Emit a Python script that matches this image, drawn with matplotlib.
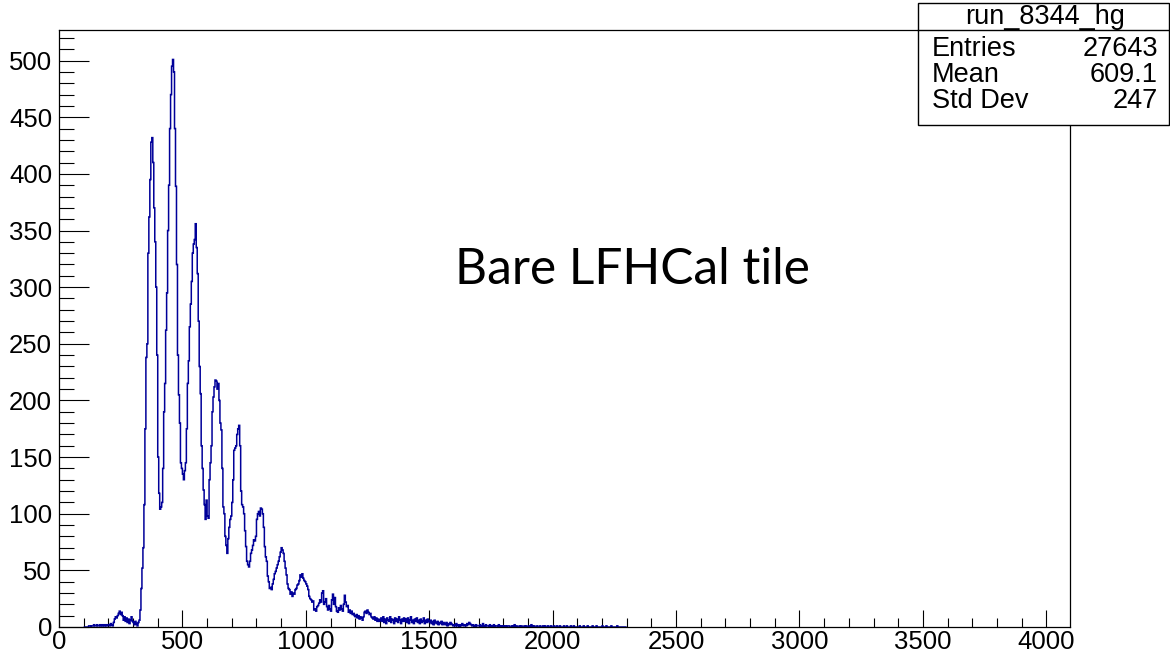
import numpy as np
import matplotlib
matplotlib.use("Agg")
import matplotlib.pyplot as plt
from matplotlib.ticker import MultipleLocator
from matplotlib.patches import Rectangle

plt.rcParams['font.family'] = ['Liberation Sans', 'DejaVu Sans']

# histogram run_8344_hg, 4 ADC counts per bin, first bin starts at 100
bin_start = 100
bin_width = 4
counts = [
    # 100-200
    0, 0, 0, 0, 0, 1, 1, 0, 1, 1, 2, 1, 1, 2, 1, 1, 2, 1, 2, 1, 2, 1, 2, 1, 2,
    # 200-300
    2, 1, 3, 2, 1, 4, 7, 9, 8, 10, 12, 14, 11, 13, 10, 6, 9, 5, 8, 4, 7, 3, 6, 9, 5,
    # 300-400
    4, 2, 5, 3, 1, 4, 6, 15, 34, 52, 70, 108, 175, 238, 250, 330, 362, 395, 428, 432, 410, 370, 340, 300, 240,
    # 400-500
    150, 118, 104, 106, 110, 140, 190, 215, 262, 295, 350, 390, 440, 470, 495, 501, 490, 440, 389, 320, 240, 205, 180, 145, 140,
    # 500-600
    135, 130, 138, 145, 175, 215, 235, 265, 285, 305, 330, 338, 342, 356, 335, 312, 270, 230, 206, 160, 140, 121, 108, 95, 112,
    # 600-700
    98, 96, 130, 145, 160, 190, 203, 212, 218, 217, 210, 215, 200, 180, 174, 140, 106, 100, 80, 72, 65, 78, 88, 95, 98,
    # 700-800
    110, 130, 156, 158, 160, 170, 175, 178, 160, 120, 108, 106, 100, 85, 71, 58, 55, 53, 58, 65, 68, 72, 77, 76, 80,
    # 800-900
    95, 100, 102, 98, 105, 104, 100, 88, 71, 62, 58, 45, 40, 34, 35, 33, 38, 42, 47, 49, 52, 55, 58, 62, 66,
    # 900-1000
    70, 68, 65, 58, 52, 46, 38, 34, 33, 29, 31, 27, 30, 29, 33, 34, 37, 38, 41, 46, 44, 47, 43, 41, 40,
    # 1000-1100
    38, 36, 33, 27, 25, 24, 22, 23, 15, 16, 14, 18, 19, 21, 24, 22, 30, 32, 20, 22, 25, 18, 15, 19, 16,
    # 1100-1200
    14, 24, 29, 20, 26, 18, 14, 13, 17, 15, 19, 16, 14, 20, 28, 22, 18, 19, 13, 15, 12, 14, 11, 12, 10,
    # 1200-1300
    9, 11, 8, 10, 7, 9, 8, 6, 9, 13, 14, 12, 15, 13, 11, 12, 9, 8, 7, 9, 6, 8, 5, 7, 5,
    # 1300-1400
    6, 8, 5, 9, 4, 7, 3, 8, 6, 5, 9, 4, 7, 6, 3, 8, 5, 7, 4, 9, 6, 3, 7, 5, 8,
    # 1400-1500
    5, 7, 4, 8, 3, 6, 9, 4, 6, 3, 7, 5, 8, 4, 6, 3, 7, 4, 5, 8, 3, 6, 4, 7, 5,
    # 1500-1600
    4, 6, 3, 5, 2, 6, 4, 3, 5, 2, 4, 3, 5, 2, 4, 3, 2, 4, 1, 3, 2, 4, 3, 2, 1,
    # 1600-1700
    2, 1, 3, 1, 2, 0, 2, 1, 3, 2, 1, 2, 1, 3, 2, 4, 3, 2, 1, 2, 1, 0, 2, 1, 1,
    # 1700-1800
    1, 2, 0, 1, 3, 1, 0, 2, 1, 1, 0, 2, 1, 0, 1, 2, 0, 1, 1, 0, 2, 1, 0, 1, 0,
    # 1800-1900
    1, 0, 1, 0, 1, 1, 0, 0, 1, 0, 1, 2, 0, 1, 0, 0, 1, 0, 1, 0, 0, 1, 0, 1, 0,
    # 1900-2000
    0, 1, 0, 2, 1, 0, 1, 0, 0, 1, 0, 0, 1, 0, 0, 1, 0, 1, 0, 0, 1, 0, 0, 1, 0,
    # 2000-2100
    0, 1, 0, 0, 1, 0, 0, 1, 0, 0, 0, 1, 0, 0, 1, 0, 0, 0, 1, 0, 0, 1, 0, 0, 0,
    # 2100-2200
    0, 0, 1, 0, 0, 0, 1, 0, 0, 0, 1, 0, 0, 0, 0, 1, 0, 0, 0, 1, 0, 0, 0, 0, 0,
    # 2200-2300
    1, 0, 0, 0, 1, 0, 0, 0, 0, 1, 0, 0, 0, 0, 0, 1, 0, 0, 0, 0, 0, 0, 0, 0, 0,
]

hist_name = "run_8344_hg"
stat_labels = ["Entries", "Mean", "Std Dev"]
stat_values = ["27643", "609.1", "247"]
label_text = "Bare LFHCal tile"

W, H = 1170, 661
fig = plt.figure(figsize=(W / 100, H / 100), dpi=100)
ax = fig.add_axes([59 / W, 1 - 627 / H, (1070 - 59) / W, (627 - 30) / H])

edges = bin_start + bin_width * np.arange(len(counts) + 1)
ax.stairs(counts, edges, color='#000099', lw=1.1, zorder=2)

ax.set_xlim(0, 4096)
ax.set_ylim(0, 527)

ax.xaxis.set_major_locator(MultipleLocator(500))
ax.xaxis.set_minor_locator(MultipleLocator(100))
ax.yaxis.set_major_locator(MultipleLocator(50))
ax.yaxis.set_minor_locator(MultipleLocator(10))

ax.tick_params(axis='both', which='both', direction='in', top=False, right=False,
               width=0.8, color='black', labelsize=18.5)
ax.tick_params(axis='x', which='major', length=12, pad=2)
ax.tick_params(axis='x', which='minor', length=6.5)
ax.tick_params(axis='y', which='major', length=21.5, pad=5)
ax.tick_params(axis='y', which='minor', length=10.8)

for s in ax.spines.values():
    s.set_linewidth(0.9)
    s.set_color('black')

# text label inside the pad
fig.text(455 / W, 1 - 284 / H, label_text, fontsize=35.7, family=['Lato', 'DejaVu Sans'],
         fontweight='normal', va='baseline', ha='left')

# stats box, top right corner
box = Rectangle((918 / W, 1 - 125 / H), (1169 - 918) / W, (125 - 3) / H,
                transform=fig.transFigure, facecolor='white', edgecolor='black',
                lw=1.0, zorder=5)
fig.add_artist(box)
fig.add_artist(plt.Line2D([918 / W, 1169 / W], [1 - 30 / H, 1 - 30 / H],
                          transform=fig.transFigure, color='black', lw=1.0, zorder=6))
fig.text(1045 / W, 1 - 17 / H, hist_name, fontsize=19.5, ha='center', va='center', zorder=7)
for i, (lab, val) in enumerate(zip(stat_labels, stat_values)):
    y = 1 - (49 + 26 * i) / H
    fig.text(932 / W, y, lab, fontsize=19.5, ha='left', va='center', zorder=7)
    fig.text(1158 / W, y, val, fontsize=19.5, ha='right', va='center', zorder=7)

fig.savefig("out.png", dpi=100)
